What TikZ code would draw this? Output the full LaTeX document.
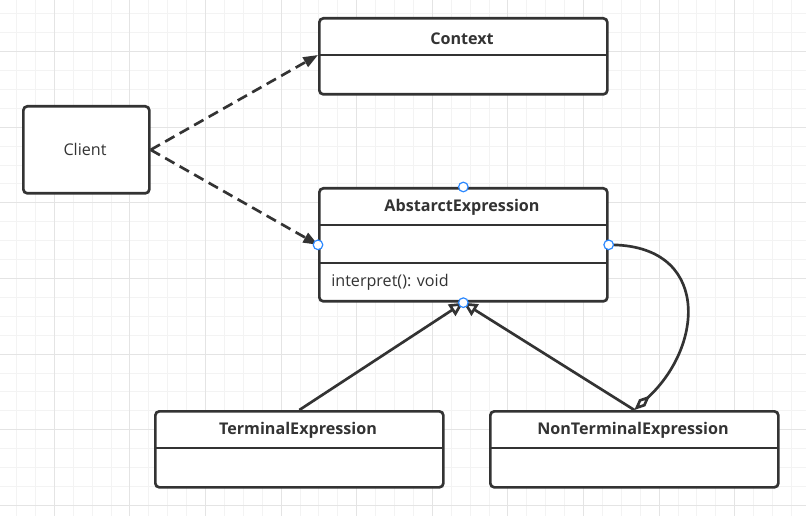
\documentclass[tikz,border=0pt]{standalone}
\usepackage{fontspec}
\setmainfont{Open Sans}
\usetikzlibrary{arrows.meta}
\definecolor{ink}{HTML}{333333}
\definecolor{gridminor}{HTML}{F3F3F3}
\definecolor{gridmajor}{HTML}{E4E4E4}
\definecolor{handle}{HTML}{2B88FF}
\tikzset{
  classbox/.style={draw=ink, line width=2pt, rounded corners=3pt, fill=white,
    inner sep=0pt, anchor=north west},
  divider/.style={draw=ink, line width=2pt},
  title/.style={text=ink, font=\fontsize{12.1}{14}\selectfont\bfseries},
  plain/.style={text=ink, font=\fontsize{12.1}{14}\selectfont},
  depends/.style={draw=ink, line width=2pt, dash pattern=on 8pt off 4.5pt,
    -{Triangle[length=11pt, width=8pt]}},
  inherits/.style={draw=ink, line width=2pt,
    -{Triangle[open, length=10.5pt, width=10pt, fill=white]}},
  aggregates/.style={draw=ink, line width=2pt,
    -{Diamond[open, length=16pt, width=7pt, fill=white]}},
  handledot/.style={circle, draw=handle, fill=white, line width=0.9pt,
    inner sep=0pt, minimum size=7.2pt},
}
\begin{document}
\begin{tikzpicture}[x=0.75pt, y=-0.75pt]
\useasboundingbox (0,0) rectangle (806,516);
\fill[white] (0,0) rectangle (806,516);

% background grid
\foreach \k in {0,...,41}
  \draw[gridminor, line width=0.75pt] ({16.5+18.9*\k},0) -- ({16.5+18.9*\k},516);
\foreach \k in {0,...,26}
  \draw[gridminor, line width=0.75pt] (0,{13.9+18.9*\k}) -- (806,{13.9+18.9*\k});
\foreach \k in {2,6,...,41}
  \draw[gridmajor, line width=0.75pt] ({16.5+18.9*\k},0) -- ({16.5+18.9*\k},516);
\foreach \k in {2,6,...,26}
  \draw[gridmajor, line width=0.75pt] (0,{13.9+18.9*\k}) -- (806,{13.9+18.9*\k});

% Client
\node[classbox, minimum width=94.5pt, minimum height=65.25pt] (client) at (22,105) {};
\node[plain] (clientT) at (85,149) {Client};

% Context
\node[classbox, minimum width=216pt, minimum height=57pt] (ctx) at (318,17) {};
\draw[divider] (318,55) -- (606,55);
\node[title] (ctxT) at (462,38.5) {Context};
\coordinate (ctxIn) at (318,55);

% AbstarctExpression
\node[classbox, minimum width=216pt, minimum height=84.75pt] (abs) at (318,187) {};
\draw[divider] (318,225) -- (606,225);
\draw[divider] (318,263) -- (606,263);
\node[title] (absT) at (462,207.5) {AbstarctExpression};
\node[plain, anchor=west, inner sep=0pt] (absM) at (331,282) {interpret(): void};

% TerminalExpression
\node[classbox, minimum width=216pt, minimum height=57pt] (term) at (154,410) {};
\draw[divider] (154,448) -- (442,448);
\node[title] (termT) at (298,430.5) {TerminalExpression};

% NonTerminalExpression
\node[classbox, minimum width=216pt, minimum height=57pt] (nonterm) at (489,410) {};
\draw[divider] (489,448) -- (777,448);
\node[title] (nontermT) at (633,430.5) {NonTerminalExpression};

% dependencies
\draw[depends] (client.east) -- (ctxIn);
\draw[depends] (client.east) -- (abs.west);

% generalisations
\draw[inherits] (term.north) -- (abs.south);
\draw[inherits] (nonterm.north) -- (abs.south);

% aggregation
\draw[aggregates] (abs.east) .. controls (710,244) and (705,345) .. (nonterm.north);

% connection handles
\node[handledot] (h1) at (abs.north) {};
\node[handledot] (h2) at (abs.west) {};
\node[handledot] (h3) at (abs.east) {};
\node[handledot] (h4) at (abs.south) {};
\end{tikzpicture}
\end{document}
